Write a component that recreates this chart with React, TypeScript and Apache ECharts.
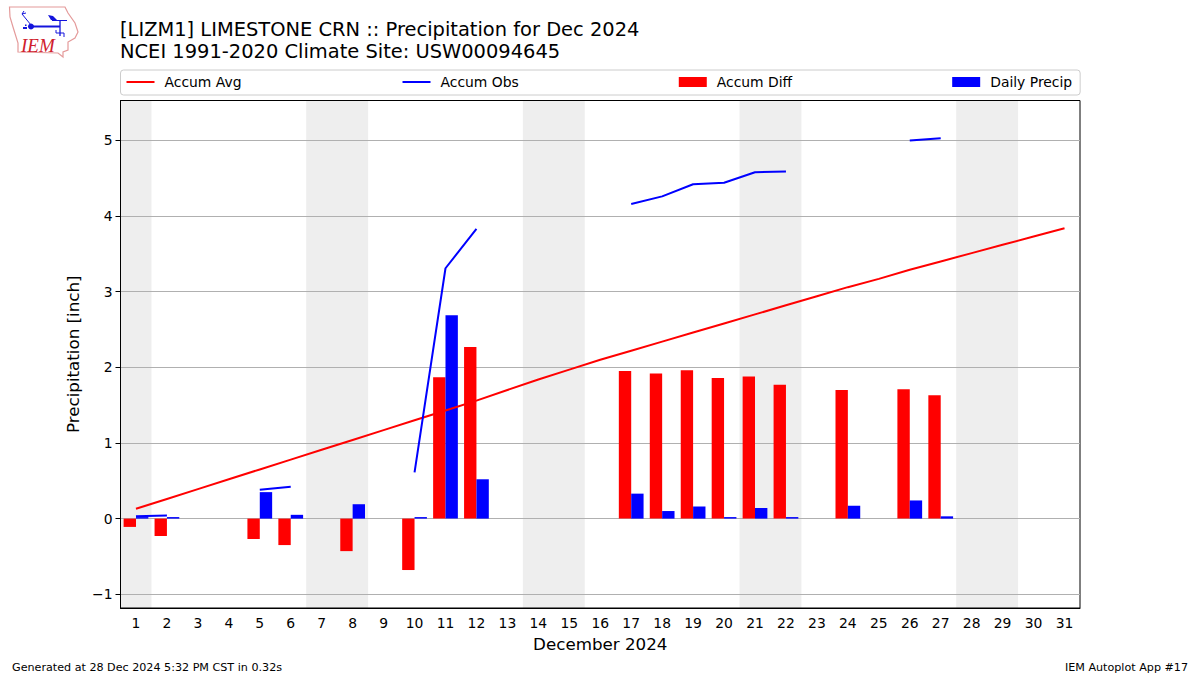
import React, { useEffect, useRef } from "react";
import * as echarts from "echarts";

const days = Array.from({ length: 31 }, (_, i) => String(i + 1));
const accumAvg = [0.13, 0.26, 0.39, 0.52, 0.65, 0.78, 0.91, 1.04, 1.17, 1.3, 1.43, 1.56, 1.7, 1.84, 1.97, 2.1, 2.22, 2.34, 2.46, 2.58, 2.7, 2.82, 2.94, 3.06, 3.17, 3.29, 3.4, 3.51, 3.62, 3.73, 3.84];
const accumObs = [0.03, 0.04, null, null, 0.38, 0.42, null, 0.6, null, 0.61, 3.31, 3.83, null, null, null, null, 4.16, 4.26, 4.42, 4.44, 4.58, 4.59, null, 4.76, null, 5.0, 5.03, null, null, null, null];
const accumDiff = [-0.11, -0.23, null, null, -0.27, -0.35, null, -0.43, null, -0.68, 1.87, 2.27, null, null, null, null, 1.95, 1.92, 1.96, 1.86, 1.88, 1.77, null, 1.7, null, 1.71, 1.63, null, null, null, null];
const dailyPrecip = [0.02, 0.02, null, null, 0.35, 0.05, null, 0.19, null, 0.02, 2.69, 0.52, null, null, null, null, 0.33, 0.1, 0.16, 0.02, 0.14, 0.02, null, 0.17, null, 0.24, 0.03, null, null, null, null];
const weekendRuns = [["1", "1"], ["7", "8"], ["14", "15"], ["21", "22"], ["28", "29"]];
const yTicks = [-1, 0, 1, 2, 3, 4, 5];
const titleText = "[LIZM1] LIMESTONE CRN :: Precipitation for Dec 2024\nNCEI 1991-2020 Climate Site: USW00094645";
const footerLeft = "Generated at 28 Dec 2024 5:32 PM CST in 0.32s";
const footerRight = "IEM Autoplot App #17";

const FONT = "DejaVu Sans";
const LOGO_BLUE = "#1414dc";

export default function App() {
  const ref = useRef<HTMLDivElement>(null);
  useEffect(() => {
    const chart = echarts.init(ref.current!, null, { renderer: "svg" });
    const barW = 12.37;
    chart.setOption({
      animation: false,
      textStyle: { fontFamily: FONT },
      title: [
        { text: titleText, left: 120, top: 18, padding: 0, textStyle: { fontFamily: FONT, fontWeight: "normal", fontSize: 19.45, lineHeight: 22, color: "#000" } },
      ],
      legend: {
        left: 120.5,
        top: 70,
        padding: [5, 8, 6, 5],
        itemGap: 160,
        itemWidth: 28,
        itemHeight: 10,
        selectedMode: false,
        borderColor: "#ccc",
        borderWidth: 1,
        borderRadius: 3,
        backgroundColor: "#fff",
        textStyle: { fontFamily: FONT, fontSize: 13.9, color: "#000", padding: [0, 0, 0, 5] },
        data: [
          { name: "Accum Avg", itemStyle: { opacity: 0 } },
          { name: "Accum Obs", itemStyle: { opacity: 0 } },
          { name: "Accum Diff", icon: "rect" },
          { name: "Daily Precip", icon: "rect" },
        ],
      },
      grid: { left: 120.5, right: 120, top: 100.5, bottom: 67, show: true, borderColor: "#000", borderWidth: 1, backgroundColor: "transparent" },
      xAxis: {
        type: "category",
        data: days,
        name: "December 2024",
        nameLocation: "middle",
        nameGap: 27,
        nameTextStyle: { fontFamily: FONT, fontSize: 16.7, color: "#000" },
        axisLine: { onZero: false, lineStyle: { color: "#000", width: 1 } },
        axisTick: { alignWithLabel: true, length: 5, lineStyle: { color: "#000" } },
        axisLabel: { interval: 0, color: "#000", fontFamily: FONT, fontSize: 13.9, margin: 8 },
        splitLine: { show: false },
      },
      yAxis: {
        type: "value",
        min: -1.182,
        max: 5.528,
        name: "Precipitation [inch]",
        nameLocation: "middle",
        nameGap: 33,
        nameTextStyle: { fontFamily: FONT, fontSize: 16.7, color: "#000" },
        axisLine: { show: true, lineStyle: { color: "#000" } },
        axisTick: { show: true, length: 5, lineStyle: { color: "#000" }, customValues: yTicks },
        axisLabel: { color: "#000", fontFamily: FONT, fontSize: 13.9, margin: 8, customValues: yTicks, formatter: (v: number) => String(v).replace("-", "\u2212") },
        splitLine: { show: true, lineStyle: { color: "#b0b0b0", width: 1 } },
      },
      series: [
        {
          type: "custom",
          name: "weekend",
          silent: true,
          z: -1,
          clip: true,
          data: weekendRuns,
          encode: { x: [0, 1] },
          renderItem: (_p: any, api: any) => {
            const a = api.coord([api.value(0), 0]);
            const b = api.coord([api.value(1), 0]);
            const w = api.size([1, 0])[0];
            return {
              type: "rect",
              shape: { x: a[0] - w / 2, y: 100, width: b[0] - a[0] + w, height: 508 },
              style: { fill: "#eeeeee" },
            };
          },
        },
        { type: "bar", name: "Accum Diff", data: accumDiff, barWidth: barW, barGap: 0, itemStyle: { color: "#ff0000" }, z: 2 },
        { type: "bar", name: "Daily Precip", data: dailyPrecip, barWidth: barW, barGap: 0, itemStyle: { color: "#0000ff" }, z: 2 },
        { type: "line", name: "Accum Avg", data: accumAvg, symbol: "none", showSymbol: false, lineStyle: { color: "#ff0000", width: 2 }, itemStyle: { color: "#ff0000" }, z: 3 },
        { type: "line", name: "Accum Obs", data: accumObs, symbol: "none", showSymbol: false, connectNulls: false, lineStyle: { color: "#0000ff", width: 2 }, itemStyle: { color: "#0000ff" }, z: 3 },
      ],
      graphic: [
        { type: "text", left: 12, top: 662, style: { text: footerLeft, fontFamily: FONT, fontSize: 11.15, fill: "#000" } },
        { type: "text", right: 12, top: 662, style: { text: footerRight, fontFamily: FONT, fontSize: 11.15, fill: "#000" } },
        {
          type: "polygon",
          shape: { points: [[9.5, 7], [65, 7], [68, 13], [75, 23], [78, 32], [75, 38], [68, 42], [68, 50], [63, 52], [63, 57], [58, 53], [18, 52], [18, 43], [13, 27], [10, 17]] },
          style: { fill: "#fff", stroke: "#e49a9a", lineWidth: 1.2 },
        },
        { type: "text", x: 21, y: 36, style: { text: "IEM", fontFamily: "Liberation Serif", fontStyle: "italic", fontSize: 19, fill: "#d0202c" } },
        { type: "line", shape: { x1: 31, y1: 26.5, x2: 60, y2: 26.5 }, style: { stroke: LOGO_BLUE, lineWidth: 2 } },
        { type: "circle", shape: { cx: 31, cy: 26.5, r: 3 }, style: { fill: LOGO_BLUE } },
        { type: "polyline", shape: { points: [[24, 11], [22, 14], [31, 25]] }, style: { stroke: LOGO_BLUE, lineWidth: 1, fill: "none" } },
        { type: "line", shape: { x1: 22, y1: 14, x2: 26, y2: 13 }, style: { stroke: LOGO_BLUE, lineWidth: 1 } },
        { type: "polygon", shape: { points: [[48, 15], [53, 16], [58, 21], [51, 20]] }, style: { fill: LOGO_BLUE } },
        { type: "line", shape: { x1: 52, y1: 20.5, x2: 67, y2: 20.5 }, style: { stroke: LOGO_BLUE, lineWidth: 1 } },
        { type: "line", shape: { x1: 60, y1: 21, x2: 60, y2: 36 }, style: { stroke: LOGO_BLUE, lineWidth: 1.3 } },
        { type: "polyline", shape: { points: [[56, 30], [56, 33], [64, 33], [64, 37]] }, style: { stroke: LOGO_BLUE, lineWidth: 1, fill: "none" } },
        { type: "rect", shape: { x: 23, y: 27, width: 4, height: 2 }, style: { fill: LOGO_BLUE } },
        { type: "rect", shape: { x: 25, y: 24.5, width: 1.5, height: 1.5 }, style: { fill: LOGO_BLUE } },
      ],
    });
    return () => chart.dispose();
  }, []);
  return <div ref={ref} style={{ position: "absolute", left: 0, top: 0, width: 1200, height: 675 }} />;
}
